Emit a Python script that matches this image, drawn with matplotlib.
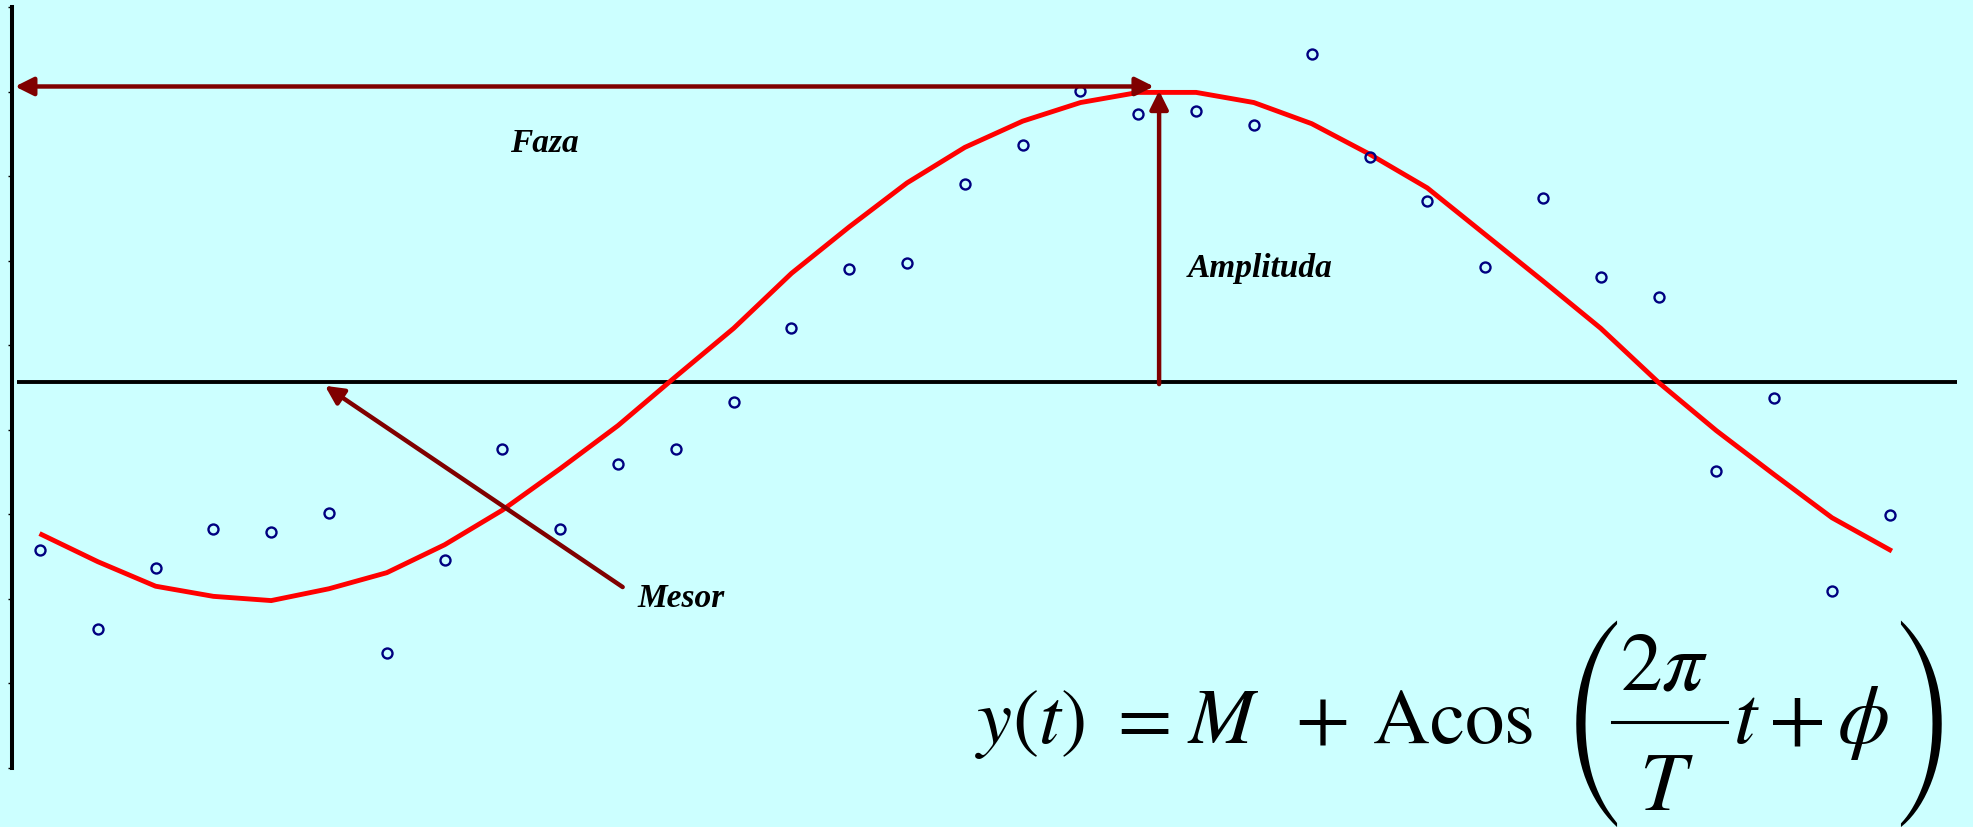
import matplotlib
matplotlib.use("Agg")
import matplotlib.pyplot as plt
from matplotlib.textpath import TextPath
from matplotlib.font_manager import FontProperties, findfont
from matplotlib.lines import Line2D

# ---- data ----
time = list(range(1, 34))
observed = [2.58, 1.64, 2.37, 2.83, 2.79, 3.02, 1.36, 2.46, 3.77, 2.83, 3.60,
            3.77, 4.33, 5.20, 5.90, 5.97, 6.91, 7.37, 8.01, 7.73, 7.77, 7.61,
            8.45, 7.23, 6.71, 5.93, 6.74, 5.81, 5.57, 3.51, 4.38, 2.09, 2.99]
fitted = [2.76, 2.44, 2.15, 2.03, 1.98, 2.12, 2.31, 2.64, 3.05, 3.54, 4.05,
          4.63, 5.20, 5.85, 6.40, 6.92, 7.34, 7.65, 7.87, 7.99, 7.99, 7.87,
          7.62, 7.26, 6.86, 6.31, 5.76, 5.20, 4.56, 3.99, 3.47, 2.96, 2.58]
mesor_level = 4.57
yticks = list(range(0, 10))

labels = {"faza": "Faza", "amp": "Amplituda", "mesor": "Mesor"}
formula_main = [r"$y(t)$", "=", r"$M$", "+", r"$\mathrm{Acos}$"]
formula_num = r"$2\pi$"
formula_den = r"$T$"
formula_tail = r"$t + \phi$"

BG = "#CCFFFF"
ARROW = "#800000"
W, H = 1973, 828

plt.rcParams['mathtext.fontset'] = 'stix'

fig = plt.figure(figsize=(W / 100, H / 100), dpi=100)
fig.patch.set_facecolor(BG)
ax = fig.add_axes([12.3 / W, 59 / H, (W - 12.3) / W, 761 / H])
ax.set_facecolor(BG)
ax.set_xlim(0.521, 34.44)
ax.set_ylim(0, 9)

for s in ["top", "right", "bottom"]:
    ax.spines[s].set_visible(False)
ax.spines["left"].set_linewidth(2.9)
ax.spines["left"].set_color("black")
ax.set_xticks([])
ax.set_yticks(yticks)
ax.set_yticklabels([])
ax.tick_params(axis="y", direction="out", length=3, width=1, color="black")

# mesor line
ax.plot([0.607, 34.17], [mesor_level, mesor_level], color="black", lw=2.8,
        solid_capstyle="butt", zorder=2)

# fitted cosine
ax.plot([1.03] + time[1:], fitted, color="#FF0000", lw=3.5, zorder=3,
        solid_joinstyle="miter")

# observations
ax.plot(time, observed, linestyle="none", marker="o", ms=7.2,
        mfc="none", mec="#000080", mew=1.7, zorder=4)

aprops = dict(arrowstyle="-|>,head_length=1.1,head_width=0.55", mutation_scale=10,
              color=ARROW, lw=3.2, shrinkA=0, shrinkB=0)
aprops2 = dict(arrowstyle="<|-|>,head_length=1.1,head_width=0.55", mutation_scale=10,
               color=ARROW, lw=3.2, shrinkA=0, shrinkB=0)

ax.annotate("", xy=(20.27, 8.06), xytext=(0.568, 8.06), arrowprops=aprops2, zorder=5)
ax.annotate("", xy=(20.36, 8.01), xytext=(20.36, 4.54), arrowprops=aprops, zorder=5)
ax.annotate("", xy=(5.93, 4.52), xytext=(11.08, 2.14), arrowprops=aprops, zorder=5)

tfont = dict(family="Liberation Serif", style="italic", weight="bold", fontsize=24)
ax.text(9.13, 7.30, labels["faza"], ha="left", va="baseline", **tfont)
ax.text(20.86, 5.82, labels["amp"], ha="left", va="baseline", **tfont)
ax.text(11.34, 1.92, labels["mesor"], ha="left", va="baseline", **tfont)

# ---- formula (pixel layout measured from the top-left of the image) ----
def fx(px):
    return px / W

def fy(py):
    return (H - py) / H

main_centers = [1030, 1144, 1223, 1322, 1453]
for s, cx in zip(formula_main, main_centers):
    if s.startswith("$"):
        fig.text(fx(cx), fy(743), s, fontsize=57, ha="center", va="baseline")
    else:
        fig.text(fx(cx), fy(743), s, fontsize=57, family="STIXGeneral",
                 ha="center", va="baseline")
fig.text(fx(1664), fy(690), formula_num, fontsize=60, ha="center", va="baseline")
fig.text(fx(1666), fy(810), formula_den, fontsize=60, ha="center", va="baseline")
fig.text(fx(1811), fy(743), formula_tail, fontsize=60, ha="center", va="baseline")
fig.add_artist(Line2D([fx(1612), fx(1727)], [fy(723), fy(723)],
                      transform=fig.transFigure, color="black", lw=2.2))

# big parentheses from the STIX size-variant fonts
target_h, target_ratio = 207.0, 207.0 / 39.0
best = None
for fam in ["STIXSizeOneSym", "STIXSizeTwoSym", "STIXSizeThreeSym", "STIXSizeFourSym"]:
    fp = FontProperties(family=fam)
    if "STIX" not in findfont(fp, fallback_to_default=True):
        continue
    ext = TextPath((0, 0), "(", size=100, prop=fp).get_extents()
    score = abs(ext.height / ext.width - target_ratio)
    if best is None or score < best[0]:
        best = (score, fam, ext)
_, pfam, pext = best
pF = target_h * 72.0 / pext.height
base_up = 1.0 - pext.y0 * pF / 72.0
for ch, cx in (("(", 1592), (")", 1925)):
    fig.text(fx(cx), base_up / H, ch, family=pfam, fontsize=pF,
             ha="center", va="baseline")

fig.savefig("out.png", dpi=100, facecolor=BG)
